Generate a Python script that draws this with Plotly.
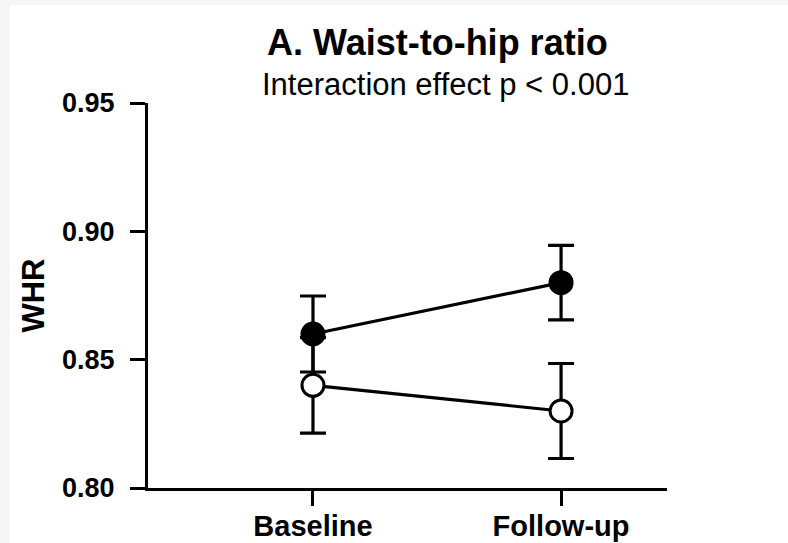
import plotly.graph_objects as go

# Time points and group means with their error bar half-widths (WHR)
timepoints = ["Baseline", "Follow-up"]
x_pos = [0, 1]
filled_mean = [0.860, 0.880]
filled_err = [0.0148, 0.0145]
open_mean = [0.840, 0.830]
open_err = [0.0186, 0.0185]
y_ticks = [0.80, 0.85, 0.90, 0.95]
y_ticktext = ["0.80", "0.85", "0.90", "0.95"]

FONT = "Liberation Sans, Arial, Helvetica, sans-serif"

W, H = 788, 543
L, R, T, B = 148, 121, 103, 55

fig = go.Figure()

# Open-circle group (drawn first so the filled group sits on top)
fig.add_trace(go.Scatter(
    x=x_pos, y=open_mean, mode="lines+markers",
    line=dict(color="black", width=3.2),
    marker=dict(symbol="circle", size=22, color="white",
                line=dict(color="black", width=3)),
    error_y=dict(type="data", array=open_err, visible=True,
                 color="black", thickness=3.2, width=13),
    showlegend=False, cliponaxis=False,
))

# Filled-circle group
fig.add_trace(go.Scatter(
    x=x_pos, y=filled_mean, mode="lines+markers",
    line=dict(color="black", width=3.2),
    marker=dict(symbol="circle", size=23, color="black",
                line=dict(color="black", width=2)),
    error_y=dict(type="data", array=filled_err, visible=True,
                 color="black", thickness=3.2, width=13),
    showlegend=False, cliponaxis=False,
))

fig.update_layout(
    width=W, height=H,
    margin=dict(l=L, r=R, t=T, b=B, autoexpand=False),
    paper_bgcolor="white", plot_bgcolor="white",
    font=dict(family=FONT, color="black"),
    xaxis=dict(
        range=[-0.665, 1.427], tickvals=x_pos, ticktext=timepoints,
        showline=True, linecolor="black", linewidth=3,
        ticks="outside", ticklen=15, tickwidth=3, tickcolor="black",
        ticklabelstandoff=-5,
        showgrid=False, zeroline=False, automargin=False,
        tickfont=dict(family=FONT, size=29, color="black", weight="bold"),
    ),
    yaxis=dict(
        range=[0.80, 0.95], tickvals=y_ticks, ticktext=y_ticktext,
        showline=True, linecolor="black", linewidth=3,
        ticks="outside", ticklen=15, tickwidth=3, tickcolor="black",
        ticklabelstandoff=10,
        showgrid=False, zeroline=False, automargin=False,
        tickfont=dict(family=FONT, size=27, color="black", weight="bold"),
        title=dict(text="WHR", standoff=9,
                   font=dict(family=FONT, size=31, color="black", weight="bold")),
    ),
    shapes=[
        # faint grey strips along the top and left edges of the page
        dict(type="rect", xref="paper", yref="paper",
             x0=-L / (W - L - R), x1=(W - L) / (W - L - R),
             y0=1 + (T - 5) / (H - T - B), y1=1 + T / (H - T - B),
             fillcolor="#f6f6f6", line=dict(width=0), layer="below"),
        dict(type="rect", xref="paper", yref="paper",
             x0=-L / (W - L - R), x1=-(L - 10) / (W - L - R),
             y0=-B / (H - T - B), y1=1 + T / (H - T - B),
             fillcolor="#f6f6f6", line=dict(width=0), layer="below"),
    ],
    annotations=[
        dict(text="<b>A. Waist-to-hip ratio</b>", x=437, y=43,
             xref="paper", yref="paper", showarrow=False,
             font=dict(family=FONT, size=36, color="black")),
        dict(text="Interaction effect p &lt; 0.001", x=445, y=84,
             xref="paper", yref="paper", showarrow=False,
             font=dict(family=FONT, size=31, color="black")),
    ],
)

# Place the heading lines in pixel coordinates
pw, ph = W - L - R, H - T - B
for ann in fig.layout.annotations:
    px, py = ann.x, ann.y
    ann.x = (px - L) / pw
    ann.y = 1 - (py - T) / ph
    ann.xanchor = "center"
    ann.yanchor = "middle"

fig.write_html("out.html")
